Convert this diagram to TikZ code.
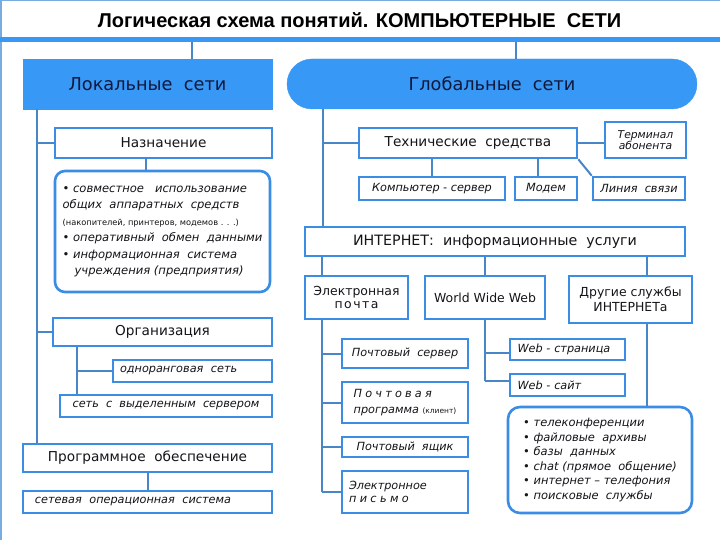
\documentclass[tikz,border=0pt]{standalone}
\usepackage{fontspec}
\setmainfont{DejaVu Sans}
\newfontfamily\titlefont{Liberation Sans}
\usetikzlibrary{calc}
\definecolor{bfill}{RGB}{56,152,245}
\definecolor{bline}{RGB}{58,140,228}
\definecolor{cline}{RGB}{72,134,200}
\definecolor{txt}{RGB}{20,20,25}
\definecolor{navy}{RGB}{16,24,60}
\definecolor{framec}{RGB}{120,172,225}
\begin{document}
\begin{tikzpicture}[x=1bp,y=-1bp,
  hdr/.style={fill=bfill, draw=bfill, text=navy, font=\fontsize{17.8}{20}\selectfont, inner sep=0},
  box/.style={draw=bline, line width=2.6bp, fill=white, text=txt, inner sep=0, align=center},
  conn/.style={draw=cline, line width=2bp},
  big/.style={font=\fontsize{13.7}{15}\selectfont},
  mid/.style={font=\fontsize{12.5}{14}\selectfont},
  ital/.style={font=\itshape\fontsize{11.3}{13}\selectfont},
]
\useasboundingbox (0,0) rectangle (720,540);
\fill[white] (0,0) rectangle (720,540);
\draw[framec, line width=1.5bp] (0.75,540) -- (0.75,0.75) -- (720,0.75);

\node[font=\titlefont\bfseries\fontsize{20.1}{22}\selectfont, text=black] (title) at (359.5,20) {Логическая схема понятий. КОМПЬЮТЕРНЫЕ\ \ СЕТИ};
\fill[bfill] (0,37) rectangle (720,42);
\coordinate (barL) at (192,42);
\coordinate (barG) at (516,42);

\node[hdr, minimum width=249bp, minimum height=50bp] (lok) at (147.5,84) {Локальные\ \ сети};
\node[hdr, rounded corners=25bp, minimum width=410bp, minimum height=50bp] (glob) at (492,84) {Глобальные\ \ сети};

% local side
\node[box, big, minimum width=217bp, minimum height=30bp] (nazn) at (163.5,143) {Назначение};
\node[box, rounded corners=10bp, minimum width=215bp, minimum height=121bp, align=left, font=\itshape\fontsize{11.6}{16.5}\selectfont] (naznlist) at (162.5,231.5) {• совместное\ \ \ использование\\общих\ \ аппаратных\ \ средств\\{\upshape\fontsize{8.3}{9}\selectfont (накопителей, принтеров, модемов . . .)}\\• оперативный\ \ обмен\ \ данными\\• информационная\ \ система\\\hspace*{12bp}учреждения (предприятия)};
\node[box, big, minimum width=219bp, minimum height=28bp] (org) at (162.5,332) {Организация};
\node[box, ital, minimum width=159bp, minimum height=22bp, text width=145bp, align=left] (odnor) at (192.5,371) {одноранговая\ \ сеть};
\node[box, ital, minimum width=212bp, minimum height=22bp] (vydel) at (166,406) {сеть\ \ с\ \ выделенным\ \ сервером};
\node[box, big, minimum width=249bp, minimum height=28bp] (prog) at (147.5,458) {Программное\ \ обеспечение};
\node[box, ital, minimum width=249bp, minimum height=22bp, text width=225bp, align=left] (netos) at (147.5,502) {сетевая\ \ операционная\ \ система};

% global side
\node[box, big, minimum width=218bp, minimum height=30bp] (tech) at (468,143) {Технические\ \ средства};
\node[box, minimum width=81bp, minimum height=36bp, font=\itshape\fontsize{10.8}{11.5}\selectfont] (term) at (645.5,140) {Терминал\\абонента};
\node[box, ital, minimum width=146bp, minimum height=23bp] (comp) at (432,188.5) {Компьютер - сервер};
\node[box, ital, minimum width=62bp, minimum height=23bp] (modem) at (546,188.5) {Модем};
\node[box, ital, minimum width=92bp, minimum height=23bp] (lsv) at (639,188.5) {Линия\ \ связи};
\node[box, font=\fontsize{14.3}{16}\selectfont, minimum width=380bp, minimum height=29bp] (inet) at (495,241.5) {ИНТЕРНЕТ:\ \ информационные\ \ услуги};
\node[box, minimum width=103bp, minimum height=43bp, font=\fontsize{12.5}{13.5}\selectfont] (email) at (356.5,297.5) {Электронная\\п\hspace{1.5bp}о\hspace{1.5bp}ч\hspace{1.5bp}т\hspace{1.5bp}а};
\node[box, mid, minimum width=120bp, minimum height=43bp] (www) at (485,297.5) {World Wide Web};
\node[box, minimum width=123bp, minimum height=47bp, font=\fontsize{12.5}{15.5}\selectfont] (other) at (630.5,299.5) {Другие службы\\ИНТЕРНЕТа};

\node[box, ital, minimum width=126bp, minimum height=29bp] (msrv) at (405,353.5) {Почтовый\ \ сервер};
\node[box, minimum width=126bp, minimum height=41bp, align=left, font=\itshape\fontsize{11.3}{16}\selectfont] (mprog) at (405,402.5) {П\hspace{3.2bp}о\hspace{3.2bp}ч\hspace{3.2bp}т\hspace{3.2bp}о\hspace{3.2bp}в\hspace{3.2bp}а\hspace{3.2bp}я\\программа {\upshape\fontsize{7.5}{9}\selectfont(клиент)}};
\node[box, ital, minimum width=126bp, minimum height=20bp] (mbox) at (405,447) {Почтовый\ \ ящик};
\node[box, minimum width=126bp, minimum height=42bp, text width=112bp, align=left, font=\itshape\fontsize{11.3}{13.5}\selectfont] (mletter) at (405,492) {Электронное\\п\hspace{3.4bp}и\hspace{3.4bp}с\hspace{3.4bp}ь\hspace{3.4bp}м\hspace{3.4bp}о};

\node[box, ital, minimum width=115bp, minimum height=21bp, text width=100bp, align=left] (wpage) at (567.5,349.5) {Web - страница};
\node[box, ital, minimum width=115bp, minimum height=22bp, text width=100bp, align=left] (wsite) at (567.5,385) {Web - сайт};
\node[box, rounded corners=12bp, minimum width=184bp, minimum height=106bp, align=left, font=\itshape\fontsize{11.5}{14.5}\selectfont] (serv) at (600,460) {• телеконференции\\• файловые\ \ архивы\\• базы\ \ данных\\• chat (прямое\ \ общение)\\• интернет – телефония\\• поисковые\ \ службы};

% connectors
\draw[conn] (barL) -- (barL |- lok.north);
\draw[conn] (barG) -- (barG |- glob.north);

\coordinate (lv) at ($(lok.south west)+(14,0)$);
\draw[conn] (lv) -- (lv |- prog.north);
\draw[conn] (lv |- nazn.west) -- (nazn.west);
\draw[conn] (lv |- org.west) -- (org.west);
\coordinate (nv) at ($(nazn.south west)+(92,0)$);
\draw[conn] (nv) -- (nv |- naznlist.north);
\coordinate (ov) at ($(org.south west)+(25,0)$);
\draw[conn] (ov) -- (ov |- vydel.north);
\draw[conn] (ov |- odnor.west) -- (odnor.west);
\draw[conn] (prog.south) -- (netos.north);

\coordinate (gv) at ($(glob.south west)+(36,0)$);
\draw[conn] (gv) -- (gv |- inet.north);
\draw[conn] (gv |- tech.west) -- (tech.west);
\draw[conn] (tech.east) -- (tech.east -| term.west);
\draw[conn] (comp.north) -- (comp.north |- tech.south);
\coordinate (mv) at ($(modem.north west)+(24,0)$);
\draw[conn] (mv) -- (mv |- tech.south);
\draw[conn] (tech.south east) -- (lsv.north west);

\coordinate (ev) at ($(email.south west)+(18,0)$);
\draw[conn] (ev |- inet.south) -- (ev |- email.north);
\draw[conn] (www.north) -- (www.north |- inet.south);
\coordinate (otv) at ($(other.north west)+(79,0)$);
\draw[conn] (otv) -- (otv |- inet.south);
\draw[conn] (otv |- other.south) -- (otv |- serv.north);

\draw[conn] (ev) -- (ev |- mletter.west);
\draw[conn] (ev |- msrv.west) -- (msrv.west);
\draw[conn] (ev |- mprog.west) -- (mprog.west);
\draw[conn] (ev |- mbox.west) -- (mbox.west);
\draw[conn] (ev |- mletter.west) -- (mletter.west);

\coordinate (wp) at ($(wpage.west)+(0,3.5)$);
\coordinate (ws) at ($(wsite.west)+(0,-4)$);
\draw[conn] (www.south) -- (www.south |- ws);
\draw[conn] (www.south |- wp) -- (wp);
\draw[conn] (www.south |- ws) -- (ws);
\end{tikzpicture}
\end{document}
